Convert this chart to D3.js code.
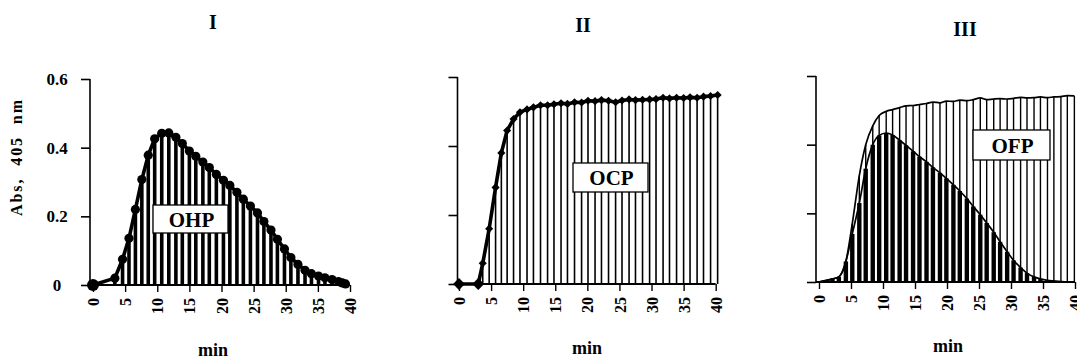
<!DOCTYPE html>
<html><head><meta charset="utf-8">
<script src="https://cdn.jsdelivr.net/npm/d3@7"></script>
<style>
html,body{margin:0;padding:0;background:#fff;}
svg{display:block;}
text{font-family:"Liberation Serif","DejaVu Serif",serif !important;font-weight:bold;fill:#000;}
</style></head>
<body>
<svg id="chart" width="1077" height="359"></svg>
<script>
// ---- data ----
const panelTitles = ["I", "II", "III"];
const boxLabels = ["OHP", "OCP", "OFP"];
const xTickValues = [0, 5, 10, 15, 20, 25, 30, 35, 40];
const yTickValues = [0, 0.2, 0.4, 0.6];
const yTickLabels = ["0", "0.2", "0.4", "0.6"];
const yAxisLabel = "Abs,\u00a0 405\u00a0 nm";
const xAxisLabel = "min";

// Panel I (OHP)
const timeI = [0, 3.4, 4.6, 5.6, 6.6, 7.6, 8.6, 9.6, 10.7, 11.8, 12.9, 13.9, 15.0, 16.0, 17.1, 18.1, 19.2, 20.3, 21.3, 22.4, 23.4, 24.5, 25.6, 26.6, 27.7, 28.7, 29.8, 30.8, 31.9, 33.0, 34.0, 35.1, 36.1, 37.2, 38.2, 38.8, 39.3];
const ohpI = [0, 0.02, 0.075, 0.136, 0.22, 0.307, 0.378, 0.426, 0.442, 0.443, 0.43, 0.412, 0.39, 0.375, 0.358, 0.342, 0.322, 0.305, 0.29, 0.27, 0.25, 0.23, 0.21, 0.185, 0.16, 0.133, 0.105, 0.08, 0.06, 0.043, 0.033, 0.026, 0.021, 0.016, 0.01, 0.006, 0.003];

// Panel II (OCP)
const timeII = [0, 3.0, 3.7, 4.7, 5.7, 6.6, 7.5, 8.5, 9.5, 10.6, 11.6, 12.7, 13.8, 14.8, 15.9, 16.9, 18.0, 19.1, 20.1, 21.2, 22.2, 23.3, 24.4, 25.4, 26.5, 27.5, 28.6, 29.7, 30.7, 31.8, 32.8, 33.9, 35.0, 36.0, 37.1, 38.1, 39.2, 40.3];
const ocpII = [0, 0, 0.06, 0.16, 0.28, 0.38, 0.445, 0.478, 0.498, 0.506, 0.512, 0.518, 0.518, 0.521, 0.524, 0.522, 0.527, 0.526, 0.531, 0.530, 0.533, 0.531, 0.527, 0.532, 0.535, 0.533, 0.534, 0.535, 0.536, 0.540, 0.538, 0.540, 0.539, 0.541, 0.540, 0.543, 0.545, 0.548];

// Panel III (OFP) : two curves
const timeIII = [0, 1.0, 2.1, 3.1, 4.2, 5.2, 6.3, 7.3, 8.4, 9.4, 10.5, 11.5, 12.6, 13.6, 14.7, 15.7, 16.8, 17.8, 18.9, 19.9, 21.0, 22.0, 23.1, 24.1, 25.2, 26.2, 27.3, 28.3, 29.4, 30.4, 31.5, 32.5, 33.6, 34.6, 35.7, 36.7, 37.8, 38.8, 39.9];
const ocpIII = [0, 0.004, 0.009, 0.015, 0.06, 0.17, 0.31, 0.40, 0.455, 0.485, 0.497, 0.502, 0.508, 0.513, 0.514, 0.517, 0.52, 0.524, 0.522, 0.527, 0.526, 0.53, 0.528, 0.531, 0.536, 0.531, 0.533, 0.534, 0.533, 0.535, 0.538, 0.536, 0.537, 0.539, 0.537, 0.539, 0.54, 0.543, 0.542];
const ohpIII = [0, 0.004, 0.009, 0.015, 0.06, 0.14, 0.23, 0.33, 0.40, 0.427, 0.434, 0.428, 0.413, 0.398, 0.381, 0.365, 0.35, 0.334, 0.318, 0.302, 0.283, 0.265, 0.243, 0.22, 0.196, 0.172, 0.145, 0.117, 0.088, 0.063, 0.042, 0.026, 0.015, 0.009, 0.005, 0.003, 0.001, 0, 0];

// ---- layout ----
const svg = d3.select("#chart");
const panels = [
  {x0: 93,  x1: 350,   y0: 285, y1: 79, axisX: 90,  title: [213, 29], minPos: [213, 356], box: [153, 205, 75, 28]},
  {x0: 459, x1: 715.7, y0: 284, y1: 77, axisX: 457.5, title: [583, 32], minPos: [587, 354], box: [573, 163, 75, 29]},
  {x0: 819, x1: 1075,  y0: 282, y1: 76, axisX: 816, title: [965, 36], minPos: [948, 352], box: [973, 130, 77, 30]}
];

function makeScales(p) {
  return {
    x: d3.scaleLinear().domain([0, 40]).range([p.x0, p.x1]),
    y: d3.scaleLinear().domain([0, 0.6]).range([p.y0, p.y1])
  };
}

function drawAxes(g, p, s, i) {
  const ya = d3.axisLeft(s.y).tickValues(yTickValues).tickSize(9).tickFormat((d, k) => yTickLabels[k]);
  const yg = g.append("g").attr("transform", `translate(${p.axisX},0)`).call(ya);
  yg.attr("font-family", null).attr("font-size", null);
  yg.select(".domain").attr("d", `M0,${s.y(0.6)}V${s.y(0)}`).attr("stroke", "#000").attr("stroke-width", 1.6);
  yg.selectAll(".tick line").attr("stroke", "#000").attr("stroke-width", 1.6);
  if (i === 0) {
    yg.selectAll(".tick text").attr("text-anchor", "middle").attr("x", 57 - p.axisX)
      .style("font-size", "17px");
  } else {
    yg.selectAll(".tick text").remove();
  }
  const xa = d3.axisBottom(s.x).tickValues(xTickValues).tickSize(7).tickFormat(d3.format("d"));
  const xg = g.append("g").attr("transform", `translate(0,${p.y0})`).call(xa);
  xg.attr("font-family", null).attr("font-size", null);
  xg.select(".domain").attr("d", `M${p.axisX},0H${s.x(40)}`).attr("stroke", "#000").attr("stroke-width", 1.8);
  xg.selectAll(".tick line").attr("stroke", "#000").attr("stroke-width", 1.4);
  xg.selectAll(".tick text")
    .attr("transform", "translate(0,13) rotate(-90)")
    .attr("x", 0).attr("y", 0).attr("dy", "0.35em")
    .attr("text-anchor", "end")
    .style("font-size", "16px");
}

function drawBars(g, s, times, vals, width) {
  g.append("g").selectAll("line").data(times).join("line")
    .attr("x1", d => s.x(d)).attr("x2", d => s.x(d))
    .attr("y1", s.y(0)).attr("y2", (d, k) => s.y(vals[k]))
    .attr("stroke", "#000").attr("stroke-width", width);
}

function drawBox(g, p, label) {
  const [bx, by, bw, bh] = p.box;
  g.append("rect").attr("x", bx).attr("y", by).attr("width", bw).attr("height", bh)
    .attr("fill", "#fff").attr("stroke", "#000").attr("stroke-width", 1.3);
  g.append("text").attr("x", bx + bw / 2 + 1).attr("y", by + bh / 2).attr("dy", "0.36em")
    .attr("text-anchor", "middle").style("font-size", "21px").text(label);
}

panels.forEach((p, i) => {
  const s = makeScales(p);
  const g = svg.append("g");
  if (i === 0) {
    drawBars(g, s, timeI, ohpI, 3.6);
    const line = d3.line().x((d, k) => s.x(timeI[k])).y(d => s.y(d));
    g.append("path").datum(ohpI).attr("d", line).attr("fill", "none").attr("stroke", "#000").attr("stroke-width", 3.6).attr("stroke-linejoin", "round");
    g.append("g").selectAll("circle").data(ohpI).join("circle")
      .attr("cx", (d, k) => s.x(timeI[k])).attr("cy", d => s.y(d))
      .attr("r", (d, k) => k === 0 ? 6 : 4.6).attr("fill", "#000");
  } else if (i === 1) {
    drawBars(g, s, timeII, ocpII, 1.6);
    const line = d3.line().x((d, k) => s.x(timeII[k])).y(d => s.y(d));
    g.append("path").datum(ocpII).attr("d", line).attr("fill", "none").attr("stroke", "#000").attr("stroke-width", 3.6).attr("stroke-linejoin", "round");
    const sym = d3.symbol().type(d3.symbolDiamond2);
    g.append("g").selectAll("path").data(ocpII).join("path")
      .attr("transform", (d, k) => `translate(${s.x(timeII[k])},${s.y(d)})`)
      .attr("d", (d, k) => sym.size(k < 2 ? 90 : 42)())
      .attr("fill", "#000");
  } else {
    drawBars(g, s, timeIII, ocpIII, 1.4);
    drawBars(g, s, timeIII, ohpIII, 4.4);
    const lineU = d3.line().x((d, k) => s.x(timeIII[k])).y(d => s.y(d)).curve(d3.curveMonotoneX);
    g.append("path").datum(ocpIII).attr("d", lineU).attr("fill", "none").attr("stroke", "#000").attr("stroke-width", 1.7);
    g.append("path").datum(ohpIII).attr("d", lineU).attr("fill", "none").attr("stroke", "#000").attr("stroke-width", 1.7);
  }
  drawAxes(g, p, s, i);
  drawBox(g, p, boxLabels[i]);
  svg.append("text").attr("x", p.title[0]).attr("y", p.title[1]).attr("text-anchor", "middle")
    .style("font-size", "20px").text(panelTitles[i]);
  svg.append("text").attr("x", p.minPos[0]).attr("y", p.minPos[1]).attr("text-anchor", "middle")
    .style("font-size", "18px").text(xAxisLabel);
});

svg.append("text").attr("transform", "translate(22,158) rotate(-90)")
  .attr("text-anchor", "middle")
  .attr("textLength", 116).attr("lengthAdjust", "spacing")
  .style("font-size", "16px").text(yAxisLabel);
</script>
</body></html>
